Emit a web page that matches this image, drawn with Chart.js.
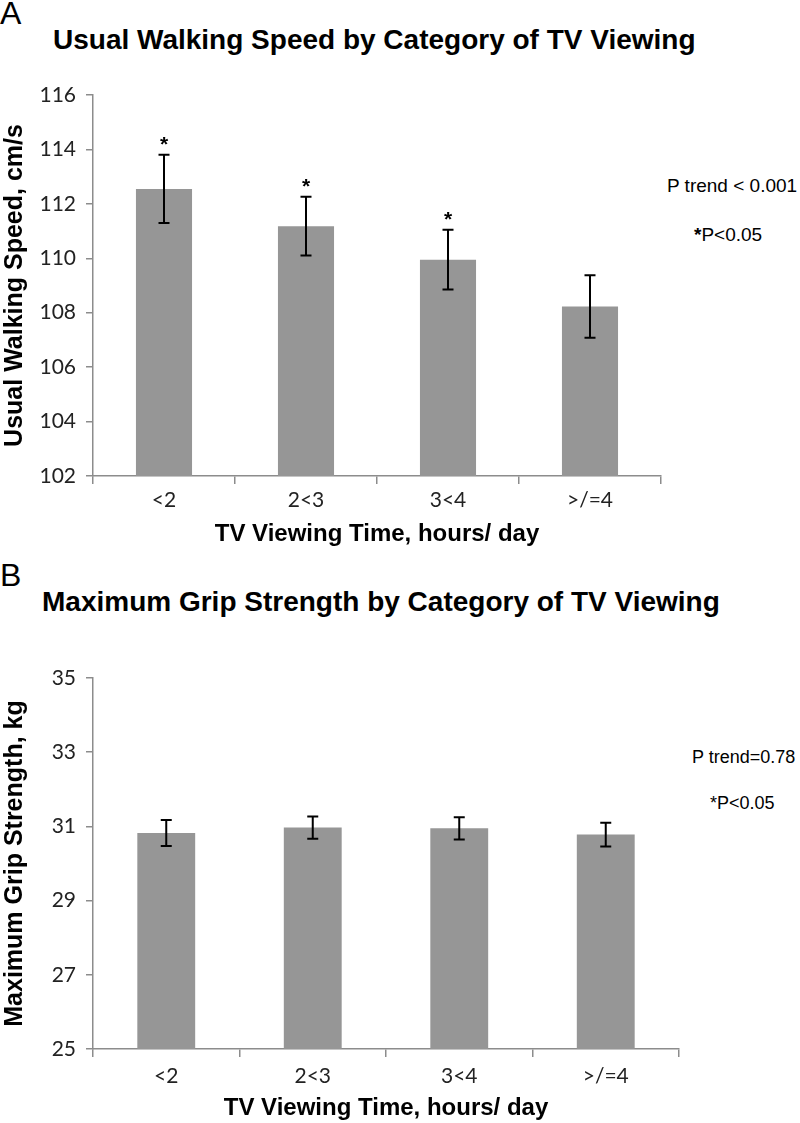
<!DOCTYPE html>
<html>
<head>
<meta charset="utf-8">
<script src="https://cdn.jsdelivr.net/npm/chart.js@4.4.1/dist/chart.umd.min.js"></script>
<style>
  html, body { margin: 0; padding: 0; background: #fff; }
  body { width: 800px; height: 1123px; position: relative; overflow: hidden; font-family: "Liberation Sans", Arial, sans-serif; }
  .abs { position: absolute; white-space: nowrap; color: #000; }
  .letter { font-size: 32px; line-height: 32px; }
  .title { font-size: 28px; line-height: 28px; font-weight: bold; }
  .note { font-size: 19px; line-height: 19px; }
  .noteB { font-size: 18px; line-height: 18px; }
  #wrapA { position: absolute; left: 0; top: 0; width: 800px; height: 560px; }
  #wrapB { position: absolute; left: 0; top: 560px; width: 800px; height: 563px; }
</style>
</head>
<body>
<div class="abs letter" style="left:0px; top:-3px;">A</div>
<div class="abs title" style="left:53px; top:26px;">Usual Walking Speed by Category of TV Viewing</div>
<div class="abs note" style="left:667px; top:176px;">P trend &lt; 0.001</div>
<div class="abs note" style="left:694px; top:225px;"><b>*</b>P&lt;0.05</div>

<div class="abs letter" style="left:0px; top:559px;">B</div>
<div class="abs title" style="left:42px; top:588px;">Maximum Grip Strength by Category of TV Viewing</div>
<div class="abs noteB" style="left:692px; top:748px;">P trend=0.78</div>
<div class="abs noteB" style="left:710px; top:794px;">*P&lt;0.05</div>

<div id="wrapA"><canvas id="chartA"></canvas></div>
<div id="wrapB"><canvas id="chartB"></canvas></div>

<script>
// ---- Data ----
const categories = ["<2", "2<3", "3<4", ">/=4"];

const walkSpeed = [112.55, 111.18, 109.95, 108.23];
const walkSpeedErr = [1.25, 1.08, 1.1, 1.15];
const walkSig = [true, true, true, false];
const walkTicks = [102, 104, 106, 108, 110, 112, 114, 116];

const gripStrength = [30.82, 30.97, 30.95, 30.78];
const gripStrengthErr = [0.35, 0.3, 0.3, 0.32];
const gripSig = [false, false, false, false];
const gripTicks = [25, 27, 29, 31, 33, 35];

const BAR_COLOR = "#969696";
const AXIS_COLOR = "#8c8c8c";
const TICK_FONT = { family: "Lato, 'Liberation Sans', sans-serif", size: 21 };

const errorBarPlugin = {
  id: "errorBars",
  afterDatasetsDraw(chart, args, opts) {
    const ctx = chart.ctx;
    const yScale = chart.scales.y;
    const meta = chart.getDatasetMeta(0);
    const vals = chart.data.datasets[0].data;
    ctx.save();
    ctx.strokeStyle = "#000";
    ctx.lineWidth = 2;
    meta.data.forEach((bar, i) => {
      const x = bar.x;
      const yt = yScale.getPixelForValue(vals[i] + opts.errors[i]);
      const yb = yScale.getPixelForValue(vals[i] - opts.errors[i]);
      ctx.beginPath();
      ctx.moveTo(x, yt); ctx.lineTo(x, yb);
      ctx.moveTo(x - 5.5, yt); ctx.lineTo(x + 5.5, yt);
      ctx.moveTo(x - 5.5, yb); ctx.lineTo(x + 5.5, yb);
      ctx.stroke();
      if (opts.sig[i]) {
        ctx.fillStyle = "#000";
        ctx.font = "bold 21px 'Liberation Sans', Arial, sans-serif";
        ctx.textAlign = "center";
        ctx.textBaseline = "middle";
        ctx.fillText("*", x, yt - 10);
      }
    });
    ctx.restore();
  }
};

function makeChart(id, values, errors, sig, ticks, yTitle, cfg) {
  return new Chart(document.getElementById(id), {
    type: "bar",
    data: {
      labels: categories,
      datasets: [{
        data: values,
        backgroundColor: BAR_COLOR,
        borderWidth: 0,
        categoryPercentage: 1.0,
        barPercentage: 0.395
      }]
    },
    options: {
      responsive: true,
      maintainAspectRatio: false,
      animation: false,
      events: [],
      layout: { padding: { left: 0, right: cfg.padRight, top: cfg.padTop, bottom: 0 } },
      plugins: {
        legend: { display: false },
        tooltip: { enabled: false },
        errorBars: { errors: errors, sig: sig }
      },
      scales: {
        x: {
          grid: { display: true, drawOnChartArea: false, drawTicks: true, tickLength: 8, color: AXIS_COLOR, lineWidth: 1.5, offset: true },
          border: { display: true, color: AXIS_COLOR, width: 1.5 },
          ticks: { color: "#222", font: TICK_FONT, padding: cfg.xTickPad },
          title: { display: true, text: "TV Viewing Time, hours/ day", color: "#000",
                   font: { family: "'Liberation Sans', Arial, sans-serif", size: 24, weight: "bold" },
                   padding: { top: 0, bottom: cfg.xTitlePadBottom } },
          afterFit(scale) { scale.height = cfg.xHeight; }
        },
        y: {
          min: ticks[0],
          max: ticks[ticks.length - 1],
          afterBuildTicks(scale) { scale.ticks = ticks.map(v => ({ value: v })); },
          grid: { display: true, drawOnChartArea: false, drawTicks: true, tickLength: 7, color: AXIS_COLOR, lineWidth: 1.5 },
          border: { display: true, color: AXIS_COLOR, width: 1.5 },
          ticks: { color: "#222", font: TICK_FONT, padding: 10 },
          title: { display: true, text: yTitle, color: "#000",
                   font: { family: "'Liberation Sans', Arial, sans-serif", size: 25, weight: "bold" },
                   padding: { top: 0, bottom: 0 } },
          afterFit(scale) { scale.width = 93; }
        }
      }
    },
    plugins: [errorBarPlugin]
  });
}

makeChart("chartA", walkSpeed, walkSpeedErr, walkSig, walkTicks, "Usual Walking Speed, cm/s",
  { padRight: 139, padTop: 95, xHeight: 84, xTitlePadBottom: 11, xTickPad: 4 });
makeChart("chartB", gripStrength, gripStrengthErr, gripSig, gripTicks, "Maximum Grip Strength, kg",
  { padRight: 121, padTop: 118, xHeight: 74, xTitlePadBottom: 0, xTickPad: 7 });
</script>
</body>
</html>
